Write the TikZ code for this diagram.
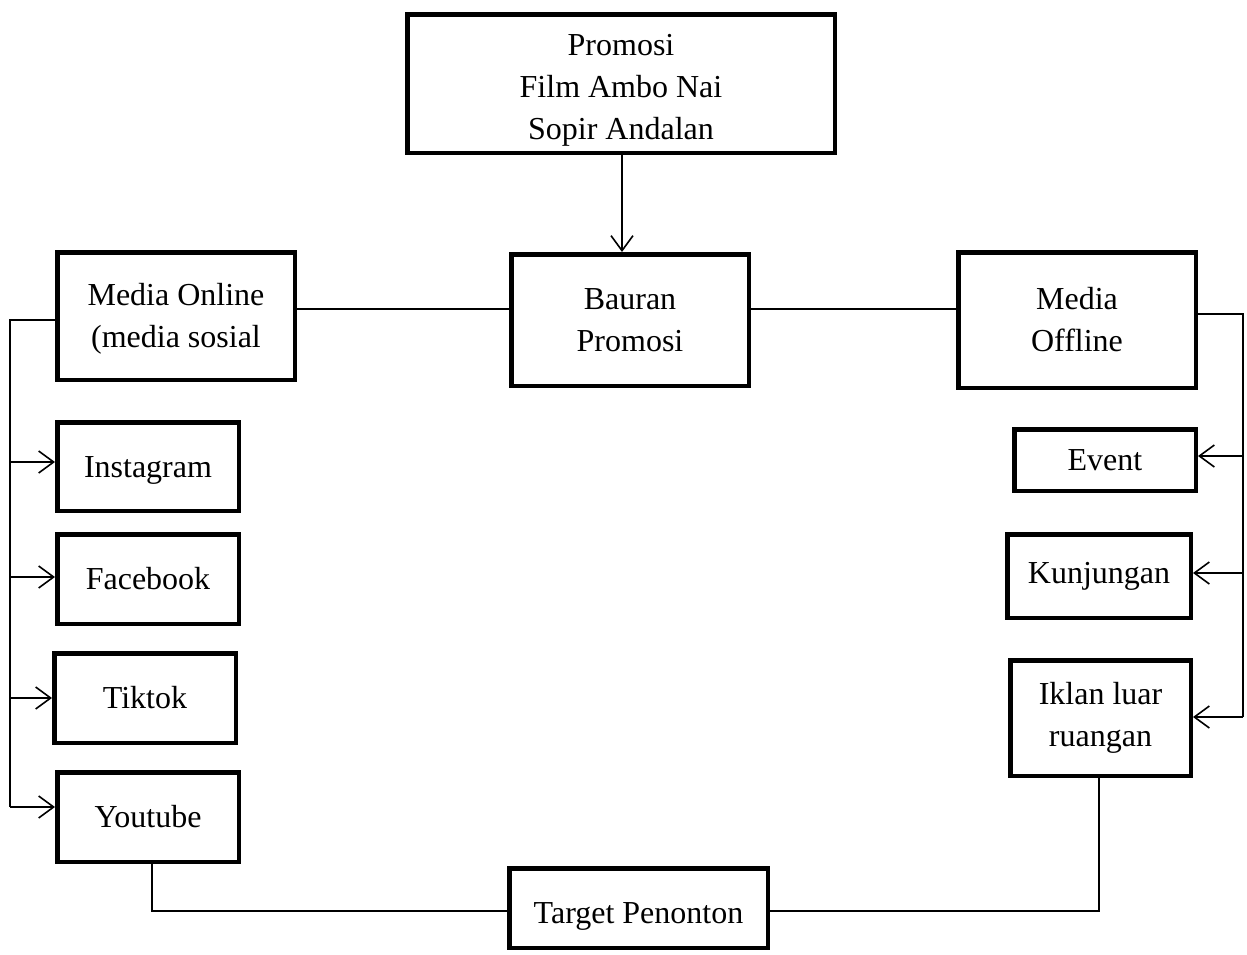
\documentclass[tikz,border=0pt]{standalone}
\usepackage{fontspec}
\setmainfont{Liberation Serif}
\usetikzlibrary{arrows.meta}
\newcommand\dropby[1]{\rule{0pt}{\dimexpr22pt+2\dimexpr#1\relax\relax}}
\begin{document}
\begin{tikzpicture}[x=1pt,y=-1pt,
  box/.style={draw,line width=4.5pt,rectangle,align=center,inner sep=0pt,
    font=\fontsize{32}{42}\selectfont},
  conn/.style={line width=1.6pt},
  arr/.style={conn,-{Straight Barb[length=15pt,width=22pt,line width=1.6pt]}}]
\useasboundingbox (0,0) rectangle (1247,954);
\node[box,minimum width=427.5pt,minimum height=138.5pt] (top) at (621,83.5) {\dropby{6pt}Promosi\\Film Ambo Nai\\Sopir Andalan};
\node[box,minimum width=237.5pt,minimum height=131.5pt] (bauran) at (630,320) {Bauran\\Promosi};
\node[box,minimum width=237.5pt,minimum height=127.5pt] (online) at (176,316) {\dropby{3pt}Media Online\\(media sosial};
\node[box,minimum width=237.5pt,minimum height=135.5pt] (offline) at (1077,320) {Media\\Offline};
\node[box,minimum width=181.5pt,minimum height=88.5pt] (insta) at (148,466.5) {\dropby{3pt}Instagram};
\node[box,minimum width=181.5pt,minimum height=89.5pt] (fb) at (148,579) {Facebook};
\node[box,minimum width=181.5pt,minimum height=89.5pt] (tiktok) at (145,698) {Tiktok};
\node[box,minimum width=181.5pt,minimum height=89.5pt] (yt) at (148,817) {Youtube};
\node[box,minimum width=181.5pt,minimum height=61.5pt] (event) at (1105,460) {Event};
\node[box,minimum width=183.5pt,minimum height=83.5pt] (kunj) at (1099,576) {Kunjungan};
\node[box,minimum width=180.5pt,minimum height=115.5pt] (iklan) at (1100.5,718) {Iklan luar\\ruangan};
\node[box,minimum width=258.5pt,minimum height=79.5pt] (target) at (638.5,908) {\dropby{8pt}Target Penonton};

\coordinate (lb) at (10,320);
\coordinate (rb) at (1243,314);
\coordinate (hl) at (0,309);
\coordinate (bl) at (152,911);
\coordinate (br) at (1099,911);

\draw[arr] (top.south -| 622,0) -- (bauran.north -| 622,0);
\draw[conn] (online.east |- hl) -- (bauran.west |- hl);
\draw[conn] (bauran.east |- hl) -- (offline.west |- hl);

\draw[conn] (online.west |- lb) -- (lb) -- (lb |- 0,807);
\draw[arr] (lb |- 0,462) -- (insta.west |- 0,462);
\draw[arr] (lb |- 0,577) -- (fb.west |- 0,577);
\draw[arr] (lb |- 0,698) -- (tiktok.west |- 0,698);
\draw[arr] (lb |- 0,807) -- (yt.west |- 0,807);

\draw[conn] (offline.east |- rb) -- (rb) -- (rb |- 0,717);
\draw[arr] (rb |- 0,456) -- (event.east |- 0,456);
\draw[arr] (rb |- 0,573) -- (kunj.east |- 0,573);
\draw[arr] (rb |- 0,717) -- (iklan.east |- 0,717);

\draw[conn] (yt.south -| bl) -- (bl) -- (target.west |- bl);
\draw[conn] (target.east |- br) -- (br) -- (iklan.south -| br);
\end{tikzpicture}
\end{document}
